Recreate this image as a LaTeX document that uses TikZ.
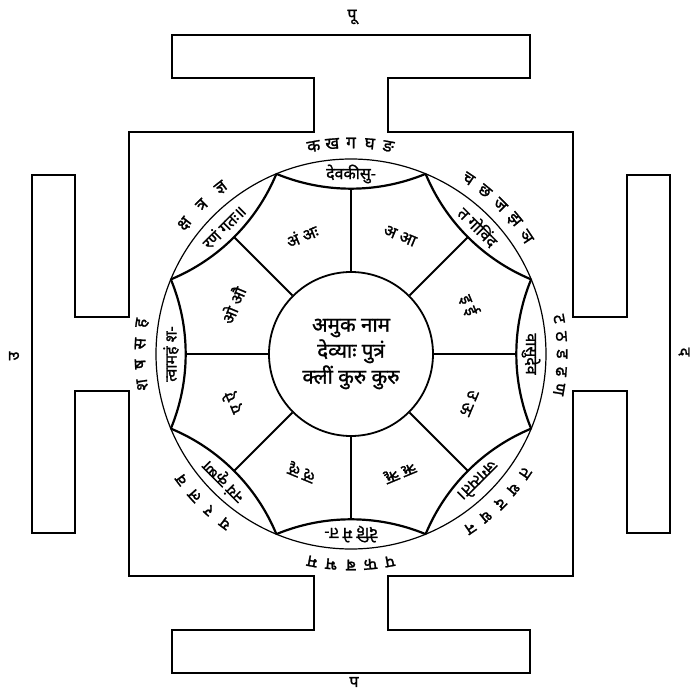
\documentclass[tikz,border=0pt]{standalone}
\usepackage{fontspec}
\newfontfamily\dev[Script=Devanagari,FakeBold=1.2]{Noto Sans}
\begin{document}
\begin{tikzpicture}[x=1pt,y=1pt,
  frame/.style={line width=1.6pt,line join=miter},
  ringline/.style={line width=1.2pt},
  lensline/.style={line width=2.2pt},
  spoke/.style={line width=1.9pt},
  hubline/.style={line width=1.8pt},
  dirlbl/.style={font=\dev\fontsize{16}{18}\selectfont,inner sep=0pt},
  varna/.style={font=\dev\fontsize{17}{19}\selectfont,inner sep=0pt},
  mantra/.style={font=\dev\fontsize{16}{18}\selectfont,inner sep=0pt},
  svara/.style={font=\dev\fontsize{16.5}{18}\selectfont,inner sep=0pt},
]
\useasboundingbox (-351,-338) rectangle (341,354);
% bhupura
\draw[frame] (-222,222) -- (-37,222) -- (-37,276) -- (-179,276) -- (-179,319) -- (179,319) -- (179,276) -- (37,276) -- (37,222) -- (222,222)
 -- (222,37) -- (276,37) -- (276,179) -- (319,179) -- (319,-179) -- (276,-179) -- (276,-37) -- (222,-37) -- (222,-222)
 -- (37,-222) -- (37,-276) -- (179,-276) -- (179,-319) -- (-179,-319) -- (-179,-276) -- (-37,-276) -- (-37,-222) -- (-222,-222)
 -- (-222,-37) -- (-276,-37) -- (-276,-179) -- (-319,-179) -- (-319,179) -- (-276,179) -- (-276,37) -- (-222,37) -- cycle;
% direction labels
\node[dirlbl] (purva) at (1,337) {पू};
\node[dirlbl] (paschima) at (3,-328) {प};
\node[dirlbl,rotate=90] (uttara) at (-337,-2) {उ};
\node[dirlbl,rotate=-90] (dakshina) at (333,2) {द};
% outer ring
\node[circle,draw,ringline,minimum size=390pt,inner sep=0pt] (ring) at (0,0) {};
% lens inner arcs
\foreach \a [evaluate=\a as \s using \a+157.5] in {0,45,...,315}
  \draw[lensline] ([shift={(\a:360.3)}]\s:195) arc[start angle=\s, end angle=\s+45, radius=195];
% hub
\node[circle,draw,hubline,minimum size=164pt,inner sep=0pt,align=center,
      font=\dev\fontsize{20.5}{26}\selectfont] (hub) at (0,0) {अमुक नाम\\देव्याः पुत्रं\\क्लीं कुरु कुरु};
\foreach \a in {0,45,...,315}
  \draw[spoke] (hub.\a) -- (\a:165.3);
% consonants outside the ring
\foreach \ang/\n/\st/\letters [count=\g] in {90/5/5.1/{क,ख,ग,घ,ङ}, 45/5/5.6/{च,छ,ज,झ,ञ}, 0/5/4.8/{ट,ठ,ड,ढ,ण}, -45/5/5.3/{त,थ,द,ध,न}, -90/5/5.3/{प,फ,ब,भ,म}, -135/4/5.6/{य,र,ल,व}, 180/4/5.6/{श,ष,स,ह}, 135/3/7/{क्ष,त्र,ज्ञ}}
  \foreach \l [count=\i] in \letters {
    \pgfmathsetmacro\t{\ang+((\n+1)/2-\i)*\st}
    \node[varna,rotate=\t-90] (v\g-\i) at (\t:211) {\l};
  };
% mantra in the lenses
\foreach \ang/\txt [count=\i] in {90/देवकीसु-, 45/त गोविंद, 0/वासुदेव, -45/जगत्पते।, -90/देहि मे त-, -135/नयं कृष्ण, 180/त्वामहं श-, 135/रणं गतः॥}
  \node[mantra,rotate=\ang-90] (m\i) at (\ang:180) {\txt};
% vowels in the cells
\foreach \ang/\txt [count=\i] in {67.5/अ आ, 22.5/इ ई, -22.5/उ ऊ, -67.5/ऋ ॠ, -112.5/ऌ ॡ, -157.5/ए ऐ, 157.5/ओ औ, 112.5/अं अः}
  \node[svara,rotate=\ang-90] (s\i) at (\ang:128) {\txt};
\end{tikzpicture}
\end{document}
